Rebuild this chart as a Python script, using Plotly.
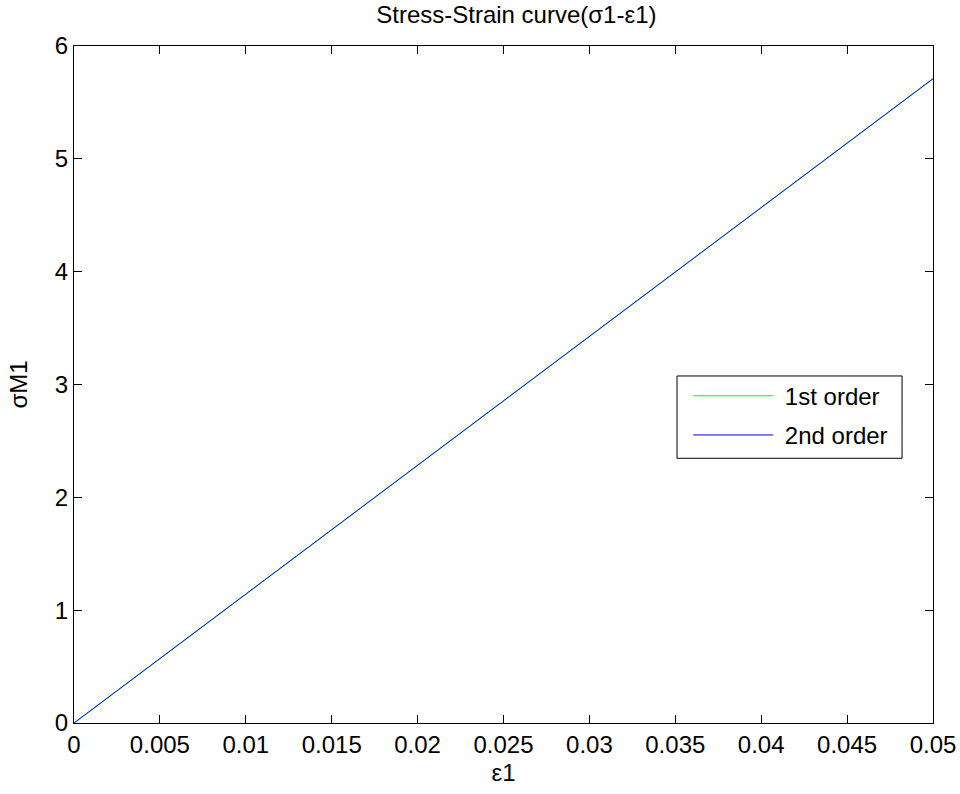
import plotly.graph_objects as go

# Strain (ε1) and stress (σM1) samples for the two approximation orders
strain = [0.0, 0.01, 0.02, 0.03, 0.04, 0.05]
stress_1st = [0.0, 1.142, 2.284, 3.426, 4.568, 5.71]
stress_2nd = [0.0, 1.142, 2.284, 3.426, 4.568, 5.71]
series_names = [" 1st order", " 2nd order"]

x_ticks = [0, 0.005, 0.01, 0.015, 0.02, 0.025, 0.03, 0.035, 0.04, 0.045, 0.05]
x_tick_text = ["0", "0.005", "0.01", "0.015", "0.02", "0.025", "0.03", "0.035", "0.04", "0.045", "0.05"]
y_ticks = [0, 1, 2, 3, 4, 5, 6]

FONT = "Liberation Sans, Arial, sans-serif"
FS = 24

fig = go.Figure()
fig.add_trace(go.Scatter(x=strain, y=stress_1st, mode="lines", name=series_names[0],
                         line=dict(color="#00ff00", width=1), legendgroup="a"))
fig.add_trace(go.Scatter(x=strain, y=stress_2nd, mode="lines", name=series_names[1],
                         line=dict(color="#0000ff", width=1), legendgroup="b"))

axis_common = dict(showline=True, linecolor="black", linewidth=1, mirror="ticks",
                   ticks="inside", ticklen=8, tickcolor="black", showgrid=False,
                   zeroline=False, automargin=False,
                   tickfont=dict(family=FONT, size=FS, color="black"))

# legend frame drawn as a rectangle so the entries can sit inset from it
fig.add_shape(type="rect", xref="paper", yref="paper",
              x0=0.702, x1=0.964, y0=0.391, y1=0.5126,
              line=dict(color="black", width=1), fillcolor="rgba(0,0,0,0)", layer="above")

fig.update_layout(
    width=960, height=794,
    margin=dict(l=74, r=27, t=46, b=71),
    paper_bgcolor="white", plot_bgcolor="white",
    title=dict(text="Stress-Strain curve(σ1-ε1)", x=0.515, xref="paper", xanchor="center",
               y=0.982, yanchor="middle",
               font=dict(family=FONT, size=FS, color="black")),
    xaxis=dict(range=[0, 0.05], tickvals=x_ticks, ticktext=x_tick_text,
               title=dict(text="ε1", font=dict(family=FONT, size=FS, color="black"), standoff=7),
               **axis_common),
    yaxis=dict(range=[0, 6], tickvals=y_ticks,
               title=dict(text="σM1", font=dict(family=FONT, size=FS, color="black"), standoff=20),
               **axis_common),
    legend=dict(x=0.715, y=0.516, xanchor="left", yanchor="top",
                bgcolor="rgba(0,0,0,0)", borderwidth=0,
                font=dict(family=FONT, size=FS, color="black"),
                itemwidth=80, tracegroupgap=5),
    showlegend=True,
)

fig.write_html("out.html")
